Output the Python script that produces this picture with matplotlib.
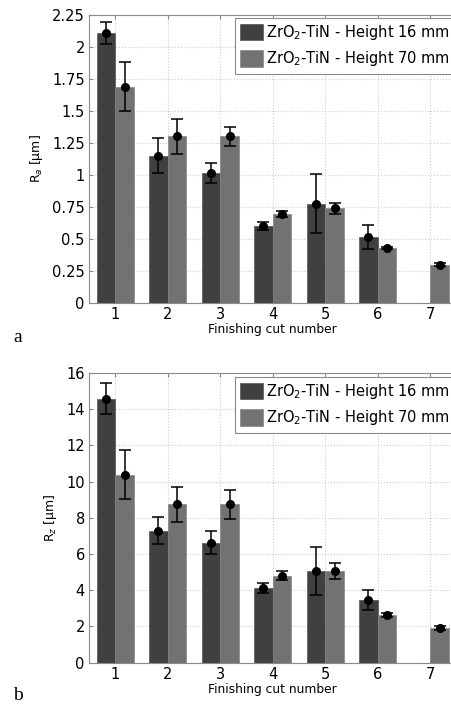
import matplotlib
matplotlib.use("Agg")
import matplotlib.pyplot as plt
import numpy as np

cuts = [1, 2, 3, 4, 5, 6, 7]
series_labels = ["ZrO$_2$-TiN - Height 16 mm", "ZrO$_2$-TiN - Height 70 mm"]

ra_16 = [2.11, 1.15, 1.015, 0.60, 0.775, 0.512, 0.0]
ra_16_err = [0.083, 0.135, 0.08, 0.035, 0.232, 0.093, 0.0]
ra_70 = [1.69, 1.30, 1.30, 0.695, 0.74, 0.427, 0.298]
ra_70_err = [0.19, 0.14, 0.075, 0.024, 0.043, 0.01, 0.013]

rz_16 = [14.58, 7.30, 6.63, 4.12, 5.07, 3.45, 0.0]
rz_16_err = [0.87, 0.77, 0.63, 0.28, 1.33, 0.54, 0.0]
rz_70 = [10.38, 8.75, 8.75, 4.80, 5.06, 2.63, 1.93]
rz_70_err = [1.36, 0.98, 0.81, 0.25, 0.42, 0.09, 0.10]

ra_ticks = [0, 0.25, 0.5, 0.75, 1, 1.25, 1.5, 1.75, 2, 2.25]
ra_ticklabels = ["0", "0.25", "0.5", "0.75", "1", "1.25", "1.5", "1.75", "2", "2.25"]
rz_ticks = [0, 2, 4, 6, 8, 10, 12, 14, 16]

dark = "#404040"
light = "#727272"
W, H = 451, 704
fig = plt.figure(figsize=(W / 100, H / 100), dpi=100)

def px_axes(left, top, right, bottom):
    return fig.add_axes([left / W, 1 - bottom / H, (right - left) / W, (bottom - top) / H])

ax1 = px_axes(89, 15, 456.5, 302.7)
ax2 = px_axes(89, 373, 456.5, 662.7)

bw = 0.355
x = np.array(cuts, dtype=float)

def draw(ax, v16, e16, v70, e70, ylim, ticks, ticklabels, ylabel):
    ax.set_axisbelow(True)
    ax.grid(True, linestyle=":", color="#cccccc", linewidth=0.8)
    b1 = ax.bar(x - bw / 2, v16, bw, color=dark, edgecolor="#555555", linewidth=0.5, label=series_labels[0])
    b2 = ax.bar(x + bw / 2, v70, bw, color=light, edgecolor="#858585", linewidth=0.5, label=series_labels[1])
    m16 = np.array(v16) > 0
    ax.errorbar((x - bw / 2)[m16], np.array(v16)[m16], yerr=np.array(e16)[m16], fmt="o", color="black",
                markersize=5.5, capsize=4, elinewidth=1.1, capthick=1.1)
    ax.errorbar(x + bw / 2, v70, yerr=e70, fmt="o", color="black",
                markersize=5.5, capsize=4, elinewidth=1.1, capthick=1.1)
    ax.set_xlim(0.5, 7.5)
    ax.set_ylim(*ylim)
    ax.set_xticks(cuts)
    ax.set_yticks(ticks)
    ax.set_yticklabels(ticklabels)
    ax.tick_params(direction="in", top=True, right=True, labelsize=10.5, length=3, color="#888888", pad=3)
    for s in ax.spines.values():
        s.set_color("#8a8a8a")
        s.set_linewidth(0.8)
    ax.set_xlabel("Finishing cut number", fontsize=8.8, labelpad=1)
    ax.set_ylabel(ylabel, fontsize=9, labelpad=5)
    leg = ax.legend(handles=[b1, b2], loc="upper left",
                    bbox_to_anchor=(235 / W, 0), bbox_transform=fig.transFigure,
                    fontsize=10.5, handlelength=1.6, handleheight=1.35, handletextpad=0.2,
                    borderpad=0.35, labelspacing=0.5, fancybox=False, framealpha=1,
                    edgecolor="#8a8a8a", borderaxespad=0)
    leg.get_frame().set_linewidth(0.8)
    return leg

leg1 = draw(ax1, ra_16, ra_16_err, ra_70, ra_70_err, (0, 2.25), ra_ticks, ra_ticklabels, "R$_a$ [µm]")
leg1.set_bbox_to_anchor((235 / W, 1 - 18 / H), transform=fig.transFigure)
leg2 = draw(ax2, rz_16, rz_16_err, rz_70, rz_70_err, (0, 16), rz_ticks, [str(t) for t in rz_ticks], "R$_z$ [µm]")
leg2.set_bbox_to_anchor((235 / W, 1 - 377 / H), transform=fig.transFigure)

fig.text(13 / W, 1 - 337 / H, "a", family="Liberation Serif", fontsize=14, va="center", ha="left")
fig.text(13 / W, 1 - 695 / H, "b", family="Liberation Serif", fontsize=14, va="center", ha="left")

fig.savefig("out.png", dpi=100)
